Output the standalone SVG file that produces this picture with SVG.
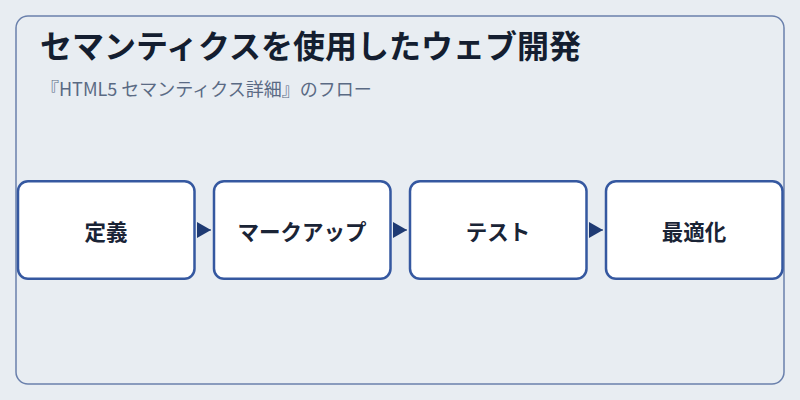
<svg xmlns="http://www.w3.org/2000/svg" width="800" height="400" viewBox="0 0 800 400">
<style>
.bg{fill:#e8edf2}
.frame{fill:none;stroke:#6a80ac;stroke-width:1.5}
.title{font-family:"Noto Sans CJK JP","Noto Sans",sans-serif;font-weight:700;font-size:32px;fill:#141e30}
.sub{font-family:"Noto Sans CJK JP","Noto Sans",sans-serif;font-size:18px;fill:#5a6a84}
.box{fill:#ffffff;stroke:#3558a0;stroke-width:2.5}
.lbl{font-family:"Noto Sans CJK JP","Noto Sans",sans-serif;font-weight:700;font-size:21.5px;fill:#1a2436;text-anchor:middle;dominant-baseline:central}
.conn{stroke:#1f3b73;stroke-width:1;fill:none}
</style>
<defs>
<marker id="arr" viewBox="0 0 14 16" refX="14" refY="8" markerWidth="14" markerHeight="16" markerUnits="userSpaceOnUse" orient="auto">
<path d="M0,0 L14,8 L0,16 Z" fill="#1f3b73"/>
</marker>
</defs>
<rect class="bg" x="0" y="0" width="800" height="400"/>
<rect class="frame" x="16" y="16" width="768" height="368" rx="12"/>
<text class="title" x="40" y="58">セマンティクスを使用したウェブ開発</text>
<text class="sub" x="41" y="96">『HTML5 セマンティクス詳細』のフロー</text>
<g id="connectors">
<line class="conn" x1="197" y1="230" x2="211" y2="230" marker-end="url(#arr)"/>
<line class="conn" x1="393" y1="230" x2="407" y2="230" marker-end="url(#arr)"/>
<line class="conn" x1="589" y1="230" x2="603" y2="230" marker-end="url(#arr)"/>
</g>
<g id="node1"><rect class="box" x="18" y="181.25" width="176.5" height="97.5" rx="10"/><text class="lbl" x="106" y="230">定義</text></g>
<g id="node2"><rect class="box" x="214" y="181.25" width="176.5" height="97.5" rx="10"/><text class="lbl" x="302" y="230">マークアップ</text></g>
<g id="node3"><rect class="box" x="410" y="181.25" width="176.5" height="97.5" rx="10"/><text class="lbl" x="498" y="230">テスト</text></g>
<g id="node4"><rect class="box" x="606" y="181.25" width="176.5" height="97.5" rx="10"/><text class="lbl" x="694" y="230">最適化</text></g>
</svg>
